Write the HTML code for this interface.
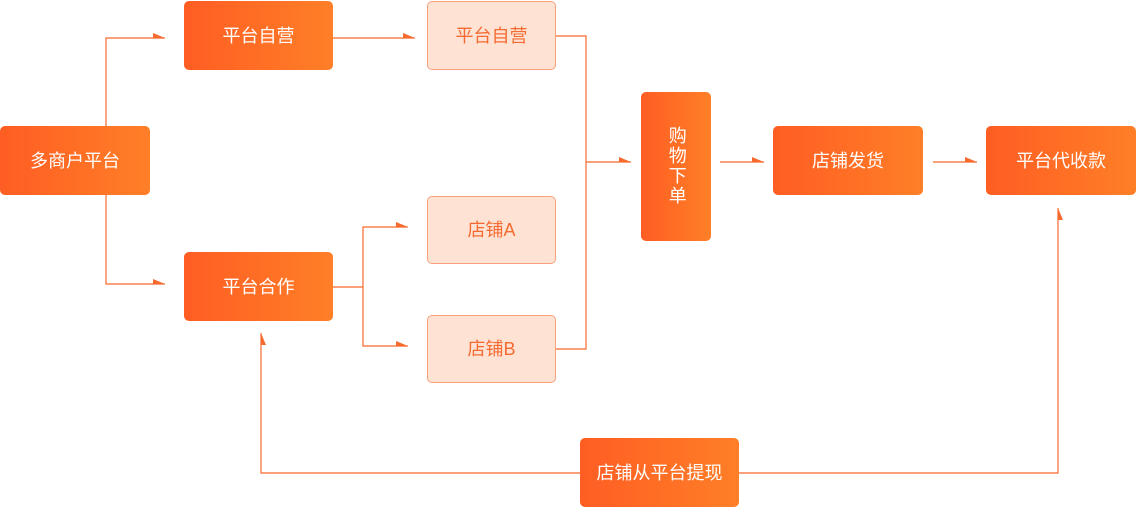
<!DOCTYPE html>
<html><head><meta charset="utf-8"><style>
body{margin:0;width:1137px;height:508px;background:#fff;position:relative;overflow:hidden;font-family:"Liberation Sans","Noto Sans CJK SC",sans-serif}
.b{position:absolute;box-sizing:border-box;border-radius:5px;display:flex;align-items:center;justify-content:center;font-size:18px;padding-bottom:2px}
.d{background:linear-gradient(90deg,#ff5d23,#ff7f27);color:#fff}
.l{background:#fee3d4;border:1px solid #f8a07a;color:#f56a30}
svg{position:absolute;left:0;top:0}
</style></head><body>
<svg width="1137" height="508">
<g stroke="#f8692e" stroke-width="1.2" fill="none">
<polyline points="165,38 106,38 106,284 165,284"/>
<line x1="333" y1="38" x2="415" y2="38"/>
<polyline points="556,36 586,36 586,349 556,349"/>
<line x1="586" y1="162" x2="631" y2="162"/>
<line x1="720" y1="162" x2="764" y2="162"/>
<line x1="933" y1="162" x2="977" y2="162"/>
<line x1="333" y1="287" x2="363" y2="287"/>
<polyline points="408,227 363,227 363,346 408,346"/>
<polyline points="580,473 261,473 261,333"/>
<polyline points="739,473 1058,473 1058,208"/>
</g>
<g fill="#f8692e">
<polygon points="153,33 165,38 153,38"/>
<polygon points="153,279 165,284 153,284"/>
<polygon points="403,33 415,38 403,38"/>
<polygon points="619,157 631,162 619,162"/>
<polygon points="752,157 764,162 752,162"/>
<polygon points="965,157 977,162 965,162"/>
<polygon points="396,222 408,227 396,227"/>
<polygon points="396,341 408,346 396,346"/>
<polygon points="261,333 266,345 261,345"/>
<polygon points="1058,208 1063,220 1058,220"/>
</g>
</svg>
<div class="b d" style="left:0;top:126px;width:150px;height:69px">多商户平台</div>
<div class="b d" style="left:184px;top:1px;width:149px;height:69px">平台自营</div>
<div class="b l" style="left:427px;top:1px;width:129px;height:69px">平台自营</div>
<div class="b d" style="left:184px;top:252px;width:149px;height:69px">平台合作</div>
<div class="b l" style="left:427px;top:196px;width:129px;height:68px">店铺A</div>
<div class="b l" style="left:427px;top:315px;width:129px;height:68px">店铺B</div>
<div class="b d" style="left:641px;top:92px;width:70px;height:149px;writing-mode:vertical-rl;line-height:1.2;letter-spacing:2px;font-size:18px">购物下单</div>
<div class="b d" style="left:773px;top:126px;width:150px;height:69px">店铺发货</div>
<div class="b d" style="left:986px;top:126px;width:150px;height:69px">平台代收款</div>
<div class="b d" style="left:580px;top:438px;width:159px;height:69px">店铺从平台提现</div>
</body></html>
